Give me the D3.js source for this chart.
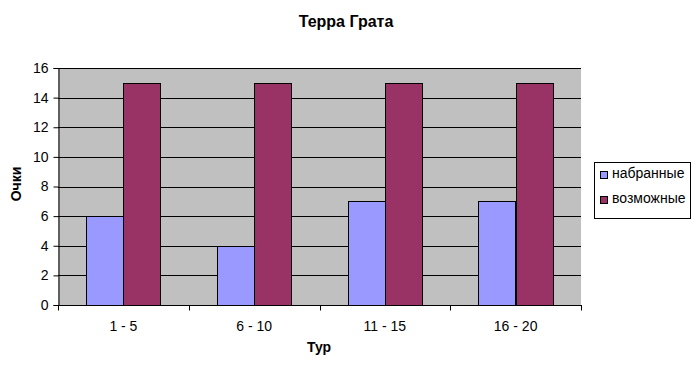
<!DOCTYPE html>
<html><head><meta charset="utf-8">
<script src="https://cdn.jsdelivr.net/npm/d3@7"></script>
<style>body{margin:0;background:#fff}svg{display:block;font-family:"Liberation Sans",Arial,sans-serif}</style>
</head><body>
<svg id="c" width="700" height="371"></svg>
<script>
const categories = ["1 - 5", "6 - 10", "11 - 15", "16 - 20"];
const seriesNames = ["набранные", "возможные"];
const scored = [6, 4, 7, 7];
const possible = [15, 15, 15, 15];
const yTicks = [0, 2, 4, 6, 8, 10, 12, 14, 16];
const colors = ["#9999FF", "#993366"];

const svg = d3.select("#c");
const L = 58, R = 581, T = 68, B = 305;
const x = d3.scaleBand().domain(categories).range([L, R]).paddingInner(0).paddingOuter(0);
const y = d3.scaleLinear().domain([0, 16]).range([B, T]);

svg.append("rect").attr("x", L).attr("y", T).attr("width", R - L).attr("height", B - T).attr("fill", "#C0C0C0");

// gridlines
svg.append("g").selectAll("line").data(yTicks.filter(d => d > 0)).join("line")
  .attr("x1", L).attr("x2", R).attr("y1", d => Math.round(y(d)) + 0.5).attr("y2", d => Math.round(y(d)) + 0.5)
  .attr("stroke", "#000").attr("stroke-width", 1);

const bw = x.bandwidth() / 3.5;
const g = svg.append("g");
categories.forEach((c, i) => {
  [scored[i], possible[i]].forEach((v, s) => {
    const x0 = x(c) + 0.75 * bw + s * bw;
    g.append("rect")
      .attr("x", Math.round(x0) + 0.5).attr("y", Math.round(y(v)) + 0.5)
      .attr("width", Math.round(bw)).attr("height", Math.round(y(0)) - Math.round(y(v)))
      .attr("fill", colors[s]).attr("stroke", "#000").attr("stroke-width", 1);
  });
});

// y axis
const ya = svg.append("g").attr("transform", `translate(${L + 0.5},0)`)
  .call(d3.axisLeft(y).tickValues(yTicks).tickSize(5).tickPadding(5));
ya.select(".domain").attr("stroke", "#000");
ya.selectAll(".tick line").attr("stroke", "#000");
ya.selectAll("text").attr("font-size", 14).attr("font-family", "Liberation Sans, Arial, sans-serif").attr("fill", "#000");

// x axis
const xa = svg.append("g").attr("transform", `translate(0,${B + 0.5})`)
  .call(d3.axisBottom(x).tickSize(0).tickPadding(0));
xa.select(".domain").remove();
xa.append("line").attr("x1", L).attr("x2", R + 1).attr("y1", 0).attr("y2", 0).attr("stroke", "#000");
xa.selectAll(".xt").data(categories.concat(["end"])).join("line")
  .attr("x1", (d, i) => Math.round(L + i * x.bandwidth()) + 0.5)
  .attr("x2", (d, i) => Math.round(L + i * x.bandwidth()) + 0.5)
  .attr("y1", 0).attr("y2", 5).attr("stroke", "#000");
xa.selectAll(".tick text").attr("dy", null).attr("y", 25).attr("font-size", 14)
  .attr("font-family", "Liberation Sans, Arial, sans-serif").attr("fill", "#000");

// titles
svg.append("text").attr("x", 346).attr("y", 26.5).attr("text-anchor", "middle")
  .attr("font-size", 16).attr("font-weight", "bold").text("Терра Грата");
svg.append("text").attr("transform", "translate(20.5,184) rotate(-90)").attr("text-anchor", "middle")
  .attr("font-size", 14).attr("font-weight", "bold").text("Очки");
svg.append("text").attr("x", 319).attr("y", 352).attr("text-anchor", "middle")
  .attr("font-size", 14).attr("font-weight", "bold").text("Тур");

// legend
const lg = svg.append("g");
lg.append("rect").attr("x", 594.5).attr("y", 162.5).attr("width", 96).attr("height", 56)
  .attr("fill", "#fff").attr("stroke", "#000");
seriesNames.forEach((n, i) => {
  const yy = 178 + i * 25;
  lg.append("rect").attr("x", 600.5).attr("y", yy - 6.5).attr("width", 7).attr("height", 7)
    .attr("fill", colors[i]).attr("stroke", "#000");
  lg.append("text").attr("x", 612).attr("y", yy).attr("font-size", 14).text(n);
});
</script>
</body></html>
